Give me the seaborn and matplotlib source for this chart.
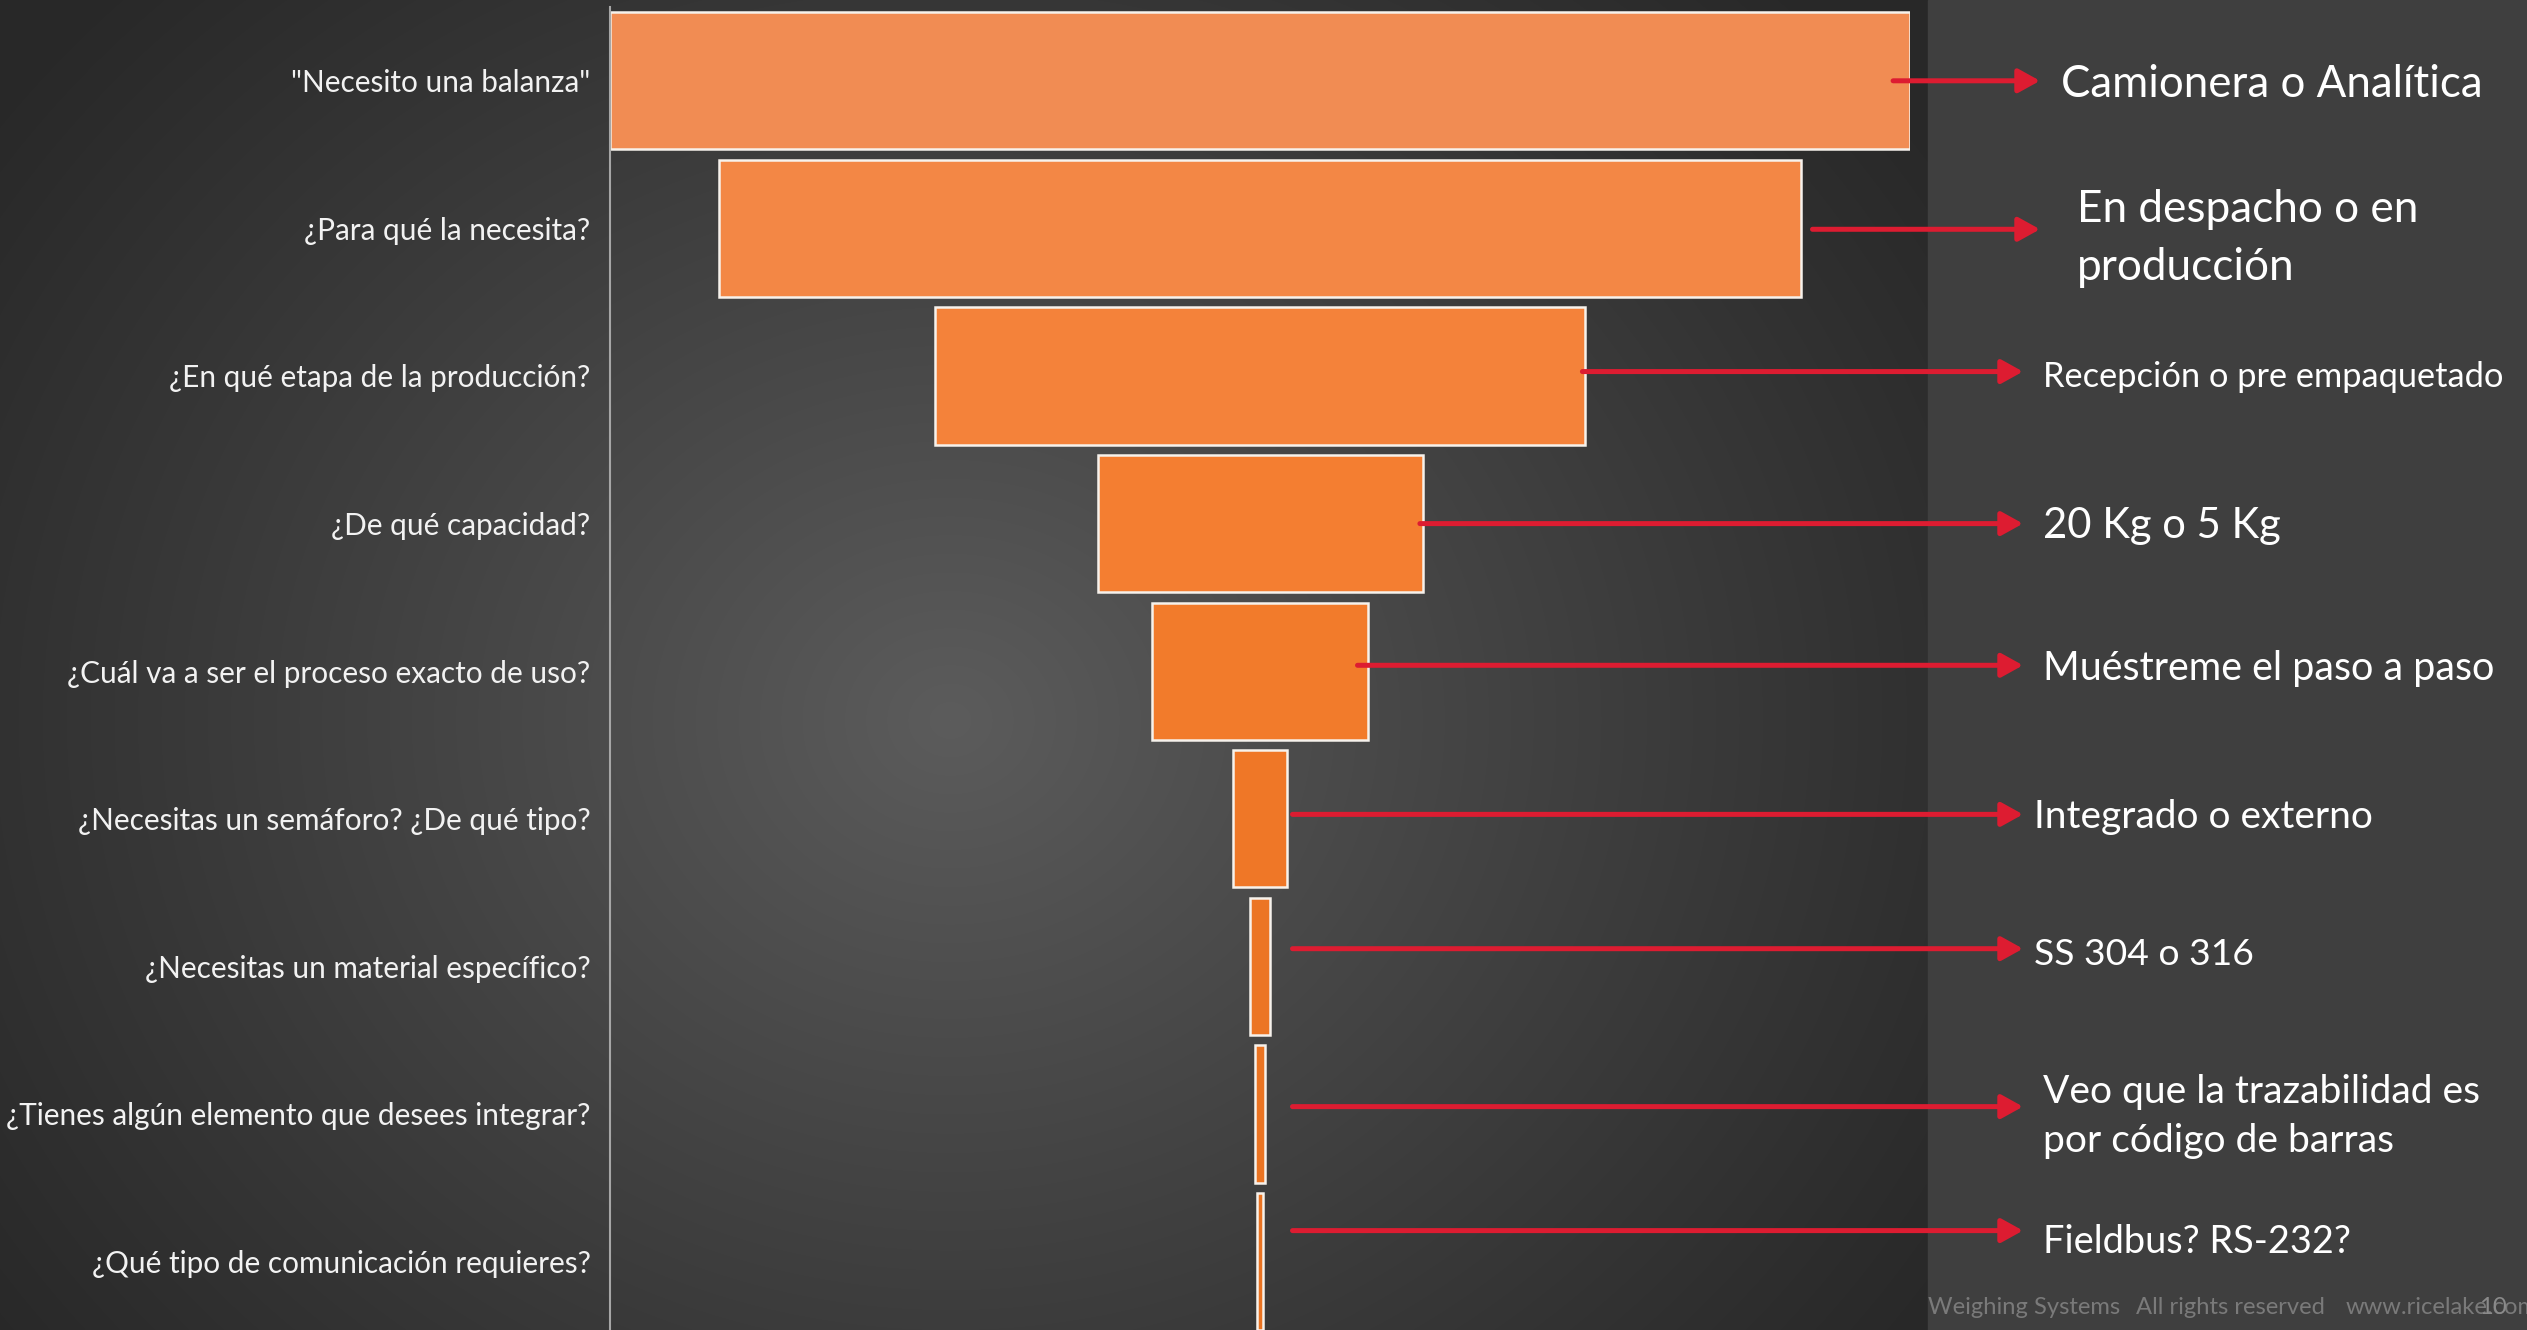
import numpy as np
import pandas as pd
import matplotlib
matplotlib.use("Agg")
import matplotlib.pyplot as plt
from matplotlib.patches import Rectangle
from matplotlib.transforms import blended_transform_factory
import seaborn as sns

# ---------------- data ----------------
questions = [
    '"Necesito una balanza"',
    '¿Para qué la necesita?',
    '¿En qué etapa de la producción?',
    '¿De qué capacidad?',
    '¿Cuál va a ser el proceso exacto de uso?',
    '¿Necesitas un semáforo? ¿De qué tipo?',
    '¿Necesitas un material específico?',
    '¿Tienes algún elemento que desees integrar?',
    '¿Qué tipo de comunicación requieres?',
]
values = [100, 83.3, 50, 25, 16.6, 4.1, 1.55, 0.75, 0.4]
answers = [
    'Camionera o Analítica',
    'En despacho o en\nproducción',
    'Recepción o pre empaquetado',
    '20 Kg o 5 Kg',
    'Muéstreme el paso a paso',
    'Integrado o externo',
    'SS 304 o 316',
    'Veo que la trazabilidad es\npor código de barras',
    'Fieldbus? RS-232?',
]
footer_parts = ['Weighing Systems', 'All rights reserved', 'www.ricelake.com']
page_number = '10'

# ---------------- styling / layout ----------------
W, H, DPI = 2527, 1330, 100
bar_colors = ['#F18C53', '#F38745', '#F4823A', '#F47E31', '#F27B2B',
              '#EF7727', '#EC7524', '#EB7422', '#EA7321']
arrow_color = '#DD1C31'
FONT = ['Lato', 'DejaVu Sans']

# annotation layout (figure pixels for text / arrow tips, data units for arrow starts)
arrow_y = [0.0, 1.006, 1.97, 3.0, 3.96, 4.97, 5.88, 6.95, 7.79]
arrow_start = [98.7, 92.5, 74.8, 62.3, 57.5, 52.5, 52.5, 52.5, 52.5]
arrow_tip_px = [2040, 2040, 2023, 2023, 2023, 2023, 2023, 2023, 2023]
text_x_px = [2061, 2077, 2043, 2043, 2043, 2034, 2034, 2043, 2043]
text_y = [0.025, 1.07, 2.005, 3.015, 3.985, 4.99, 5.92, 7.02, 7.87]
text_w_px = [422, 342, 461, 237, 453, 340, 219, 438, 309]
line_sp = [1.4, 1.52, 1.4, 1.4, 1.4, 1.4, 1.4, 1.45, 1.4]

plt.rcParams['font.family'] = FONT

fig = plt.figure(figsize=(W / DPI, H / DPI), dpi=DPI)
fig.patch.set_facecolor('#2a2a2a')

# background: radial gradient on the left part, flat panel on the right
bg = fig.add_axes([0, 0, 1, 1], zorder=0)
panel_x = 1928
yy, xx = np.mgrid[0:H, 0:panel_x]
r = np.sqrt(((xx - 950) / 1200.0) ** 2 + ((yy - 720) / 1050.0) ** 2)
t = np.clip(1 - r, 0, 1) ** 1.1
g = (40 + (92 - 40) * t) / 255.0
bg.imshow(np.dstack([g, g, g]), extent=[0, panel_x, H, 0], aspect='auto',
          interpolation='bilinear')
bg.add_patch(Rectangle((panel_x, 0), W - panel_x, H, color='#3f3f3f'))
bg.set_xlim(0, W)
bg.set_ylim(H, 0)
bg.axis('off')

# main axes
ax_left, ax_right, ax_top, pitch = 610, 1910, 7, 147.6
n = len(questions)
ax_bottom = ax_top + pitch * n
ax = fig.add_axes([ax_left / W, (H - ax_bottom) / H, (ax_right - ax_left) / W,
                   (ax_bottom - ax_top) / H], zorder=1)
ax.patch.set_alpha(0)

df = pd.DataFrame({'question': questions, 'value': values})
offsets = (max(values) - df['value'].to_numpy()) / 2.0

sns.barplot(data=df, x='value', y='question', orient='h', left=offsets,
            color=bar_colors[0], edgecolor='#F7F2EC', linewidth=1.8,
            width=0.93, errorbar=None, ax=ax)
for patch, c in zip(ax.patches, bar_colors):
    patch.set_facecolor(c)

ax.set_xlim(0, max(values))
ax.set_ylim(n - 0.5, -0.5)
ax.set_xlabel('')
ax.set_ylabel('')
ax.set_xticks([])
for s in ['top', 'right', 'bottom']:
    ax.spines[s].set_visible(False)
ax.spines['left'].set_color('#a6a6a6')
ax.spines['left'].set_linewidth(1.5)
ax.tick_params(axis='y', length=0, pad=14, colors='#F2F2F2')

renderer = fig.canvas.get_renderer()


def fitted_size(s, target, base=20):
    tmp = fig.text(0, 0, s, fontsize=base, family=FONT)
    w = tmp.get_window_extent(renderer).width
    tmp.remove()
    return base * target / w


tick_fs = fitted_size('¿Tienes algún elemento que desees integrar?', 585)
for lab in ax.get_yticklabels():
    lab.set_fontsize(tick_fs)
    lab.set_color('#F2F2F2')
    lab.set_family(FONT)

trans = blended_transform_factory(fig.transFigure, ax.transData)
for i in range(n):
    ax.annotate('', xy=(arrow_tip_px[i] / W, arrow_y[i]),
                xycoords=('figure fraction', 'data'),
                xytext=(arrow_start[i], arrow_y[i]), textcoords='data',
                annotation_clip=False,
                arrowprops=dict(arrowstyle='-|>,head_length=0.65,head_width=0.36',
                                mutation_scale=20, lw=3.6, color=arrow_color,
                                shrinkA=0, shrinkB=0))
    first_line = answers[i].split('\n')[0]
    fs = fitted_size(first_line, text_w_px[i])
    ax.text(text_x_px[i] / W, text_y[i], answers[i], transform=trans,
            ha='left', va='center', fontsize=fs, color='white',
            family=FONT, linespacing=line_sp[i], clip_on=False)

# footer
foot_fs = fitted_size(footer_parts[0], 192)
foot_x = [1928, 2136, 2346]
for s, x in zip(footer_parts, foot_x):
    fig.text(x / W, 1 - 1307 / H, s, fontsize=foot_fs, color='#7a7a7a',
             ha='left', va='center', family=FONT)
fig.text(2479 / W, 1 - 1307 / H, page_number, fontsize=foot_fs, color='#8a8a8a',
         ha='left', va='center', family=FONT)

fig.savefig('out.png', dpi=DPI, facecolor=fig.get_facecolor())
